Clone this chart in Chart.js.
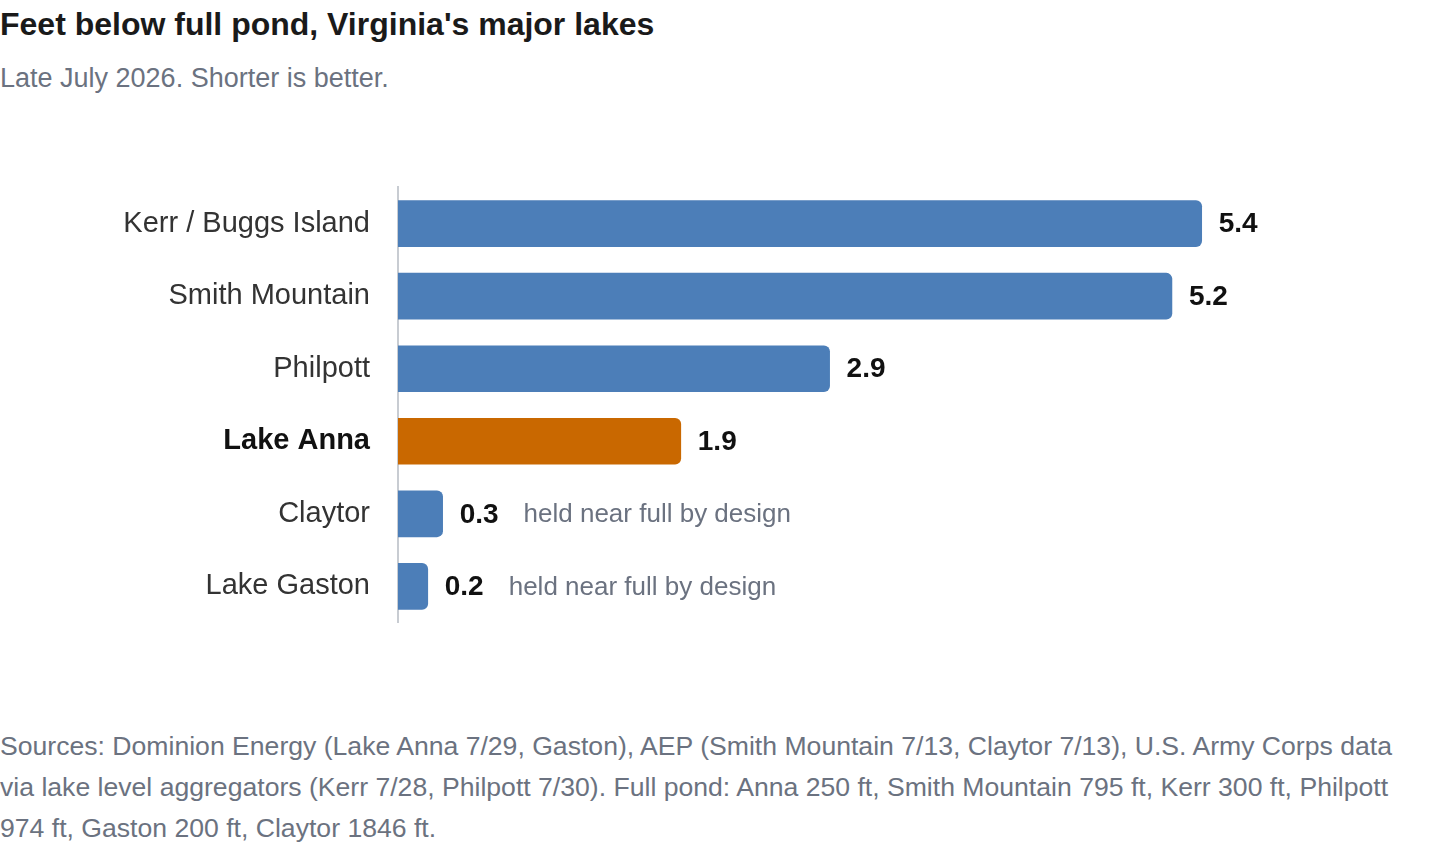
<!DOCTYPE html>
<html><head><meta charset="utf-8">
<script src="https://cdn.jsdelivr.net/npm/chart.js@4"></script>
<style>
body{margin:0;background:#fff;font-family:"Liberation Sans",Arial,sans-serif;}
#t{position:absolute;left:0;top:6px;font-size:32px;font-weight:bold;color:#1a1a1a;}
#s{position:absolute;left:0;top:63px;font-size:27px;color:#6b7280;}
#c{position:absolute;left:0;top:150px;}
#f{position:absolute;left:0;top:726px;width:1430px;font-size:26.6px;line-height:41px;color:#6b7280;}
</style></head><body>
<div id="t">Feet below full pond, Virginia's major lakes</div>
<div id="s">Late July 2026. Shorter is better.</div>
<canvas id="c" width="1440" height="510"></canvas>
<div id="f">Sources: Dominion Energy (Lake Anna 7/29, Gaston), AEP (Smith Mountain 7/13, Claytor 7/13), U.S. Army Corps data via lake level aggregators (Kerr 7/28, Philpott 7/30). Full pond: Anna 250 ft, Smith Mountain 795 ft, Kerr 300 ft, Philpott 974 ft, Gaston 200 ft, Claytor 1846 ft.</div>
<script>
const lakes=["Kerr / Buggs Island","Smith Mountain","Philpott","Lake Anna","Claytor","Lake Gaston"];
const feetBelow=[5.4,5.2,2.9,1.9,0.3,0.2];
const notes=["","","","","held near full by design","held near full by design"];
const highlight="Lake Anna";
const colors=lakes.map(l=>l===highlight?"#c96800":"#4c7eb8");
const labelPlugin={id:"lbl",afterDatasetsDraw(ch){
 const ctx=ch.ctx;const meta=ch.getDatasetMeta(0);
 meta.data.forEach((b,i)=>{
  ctx.save();ctx.textBaseline="middle";
  ctx.font="bold 28px 'Liberation Sans', Arial";ctx.fillStyle="#111";
  const v=feetBelow[i].toFixed(1);const x=b.x+17;
  ctx.fillText(v,x,b.y+1);
  if(notes[i]){const w=ctx.measureText(v).width;ctx.font="26px 'Liberation Sans', Arial";ctx.fillStyle="#6b7280";ctx.fillText(notes[i],x+w+25,b.y+1);}
  ctx.restore();});
}};
new Chart(document.getElementById("c"),{type:"bar",
 data:{labels:lakes,datasets:[{data:feetBelow,backgroundColor:colors,barThickness:46,borderRadius:6,borderSkipped:"start"}]},
 options:{indexAxis:"y",responsive:false,animation:false,devicePixelRatio:1,
  layout:{padding:{right:149,left:0,top:0,bottom:0}},
  plugins:{legend:{display:false},tooltip:{enabled:false}},
  scales:{x:{display:false,min:0,max:6},
   y:{afterFit(s){s.width=398;},grid:{display:false},border:{display:true,color:"#c8ccd2",width:2},
    ticks:{padding:20,font:(c)=>({size:29,family:"'Liberation Sans', Arial",weight:lakes[c.index]===highlight?"bold":"normal"}),
     color:(c)=>lakes[c.index]===highlight?"#111":"#333"}}}},
 plugins:[labelPlugin]});
</script></body></html>
